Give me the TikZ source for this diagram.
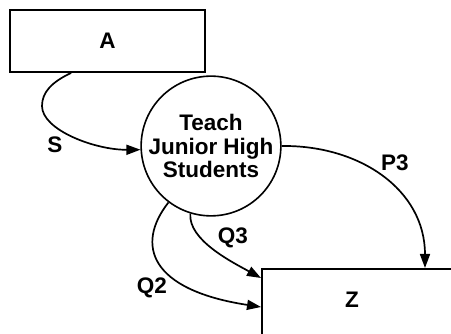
\documentclass[tikz,border=0pt]{standalone}
\usepackage{fontspec}
\setsansfont{Liberation Sans}
\usetikzlibrary{arrows.meta}

\begin{document}
\begin{tikzpicture}[x=1pt,y=-1pt,
  every node/.style={font=\sffamily\bfseries\fontsize{22.5}{23.5}\selectfont},
  store/.style={draw,rectangle,line width=1.8pt,inner sep=0pt},
  proc/.style={draw,circle,line width=1.6pt,inner sep=0pt,minimum size=127pt,align=center},
  flow/.style={-{Triangle[length=14pt,width=10pt]},line width=1.7pt}]
\useasboundingbox (0,0) rectangle (451,334);
\clip (0,0) rectangle (451,334);
\node[store,minimum width=195pt,minimum height=62pt] (a) at (107.5,41) {A};
\node[proc] (t) at (211,146) {Teach\\Junior High\\Students};
\node[store,anchor=north west,minimum width=210pt,minimum height=100pt] (z) at (261,268) {};
\node (zlabel) at (352,300) {Z};
% flows between the boxes and the process
\draw[flow] ([xshift=62pt]a.south west) .. controls (52,82) and (42,92) .. (42,106)
  .. controls (42,130) and (95,150) .. (t.183);
\draw[flow] (t.0) .. controls (360,145) and (425,190) .. ([xshift=164pt]z.north west);
\draw[flow] (t.253) .. controls (188,240) and (232,262) .. ([yshift=-10pt]z.north west);
\draw[flow] (t.233) .. controls (135,245) and (150,290) .. ([yshift=-39pt]z.north west);
\node (s) at (55,145) {S};
\node (p3) at (395,163) {P3};
\node (q3) at (233,238) {Q3};
\node (q2) at (152,288) {Q2};
\end{tikzpicture}
\end{document}
